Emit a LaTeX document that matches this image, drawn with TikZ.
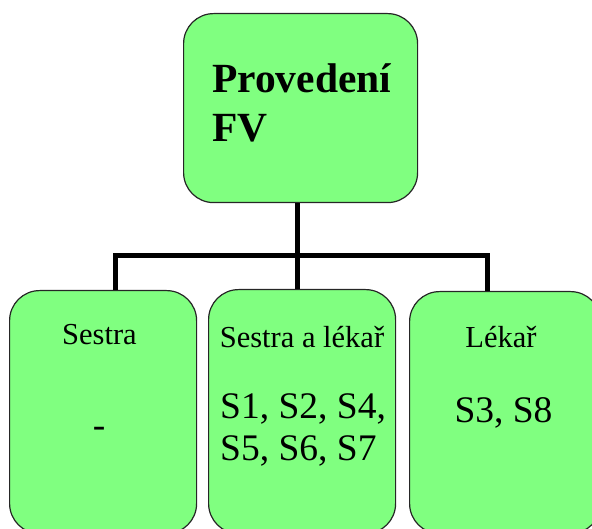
\documentclass[tikz,border=0pt]{standalone}
\usepackage{fontspec}
\IfFontExistsTF{LiberationSerif-Regular.ttf}
  {\setmainfont{LiberationSerif}[Extension=.ttf, UprightFont=*-Regular, BoldFont=*-Bold]}
  {\setmainfont{Liberation Serif}}
\definecolor{boxgreen}{RGB}{128,255,128}
\begin{document}
\begin{tikzpicture}[x=1pt,y=-1pt,
  box/.style={draw=black!85, line width=1.2pt, fill=boxgreen, rounded corners=30pt,
              inner sep=0pt, anchor=north west},
  conn/.style={line width=5pt, line join=miter},
  head/.style={anchor=base west, inner sep=0pt, font=\fontsize{41.5}{49}\selectfont\bfseries},
  lbl/.style={anchor=base, inner sep=0pt, font=\fontsize{30.5}{36}\selectfont},
  big/.style={inner sep=0pt, font=\fontsize{37.5}{42}\selectfont}]
\useasboundingbox (0,0) rectangle (592,529);
\clip (0,0) rectangle (592,529);

% boxes
\node[box, minimum width=234pt, minimum height=189pt] (top) at (183,13) {};
\node[box, minimum width=187pt, minimum height=243pt] (left) at (9,290) {};
\node[box, minimum width=187pt, minimum height=244pt] (mid) at (208,289) {};
\node[box, minimum width=191pt, minimum height=242pt] (right) at (409,291) {};

% tree connectors
\coordinate (bus) at (297.5,255.5);
\draw[conn] (top.south -| bus) -- (bus) -- (mid.north -| bus);
\draw[conn] ([xshift=12pt]left.north) -- ([xshift=12pt]left.north |- bus)
  -- ([xshift=-18pt]right.north |- bus) -- ([xshift=-18pt]right.north);

% title
\node[head] (t1) at (212,93) {Provedení};
\node[head] (t2) at (212,142) {FV};

% left box
\node[lbl] (ls) at (99.5,345) {Sestra};
\node[big, anchor=base] (ld) at (99,437) {-};

% middle box
\node[lbl] (ms) at (302,348) {Sestra a lékař};
\node[big, anchor=base west] (m1) at (220,418) {S1, S2, S4,};
\node[big, anchor=base west] (m2) at (220,460) {S5, S6, S7};

% right box
\node[lbl] (rs) at (501,348) {Lékař};
\node[big, anchor=base] (r1) at (503.5,422) {S3, S8};
\end{tikzpicture}
\end{document}
